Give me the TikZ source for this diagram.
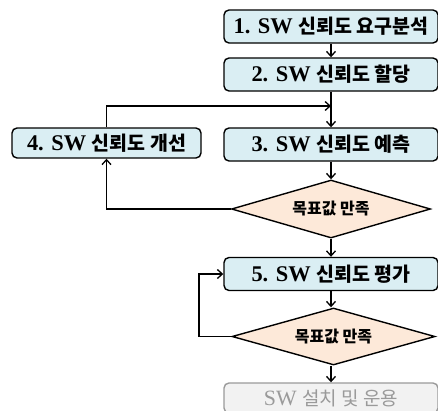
\documentclass[tikz,border=0pt]{standalone}
\usepackage{fontspec}
\setmainfont[Scale=1.15]{Liberation Serif}
\newfontfamily\kr{Noto Sans CJK KR}
\usetikzlibrary{shapes.geometric,arrows.meta}
\definecolor{boxblue}{HTML}{DAEEF3}
\definecolor{peach}{HTML}{FDE9D9}
\definecolor{greyfill}{HTML}{F2F2F2}
\definecolor{greytext}{HTML}{9A9A9A}
\tikzset{
  stepbox/.style={draw=black, fill=boxblue, line width=1.4pt, rounded corners=5pt,
    minimum width=214pt, minimum height=33pt, inner sep=0pt, font=\fontsize{19.5}{21}\selectfont\bfseries},
  smallbox/.style={stepbox, minimum width=189pt, minimum height=30pt},
  greybox/.style={draw=greytext, fill=greyfill, line width=1.4pt, rounded corners=5pt,
    minimum width=214pt, minimum height=30pt, inner sep=0pt, text=greytext,
    font=\fontsize{19}{20}\selectfont},
  decide/.style={diamond, draw=black, fill=peach, line width=1.4pt, inner sep=0pt,
    aspect=3.4, minimum width=199pt, minimum height=58pt, font=\fontsize{16}{17}\selectfont\bfseries},
  conn/.style={line width=1.3pt, -{Straight Barb[length=5pt,width=9pt,line width=1.3pt]}},
  plain/.style={line width=1.3pt}
}
\begin{document}
\begin{tikzpicture}[x=1pt,y=-1pt]
\useasboundingbox (0,0) rectangle (438,410);
\node[stepbox] (b1) at (331,26.5) {1.\,\,SW {\kr 신뢰도 요구분석}};
\node[stepbox] (b2) at (331,74.5) {2.\,\,SW {\kr 신뢰도 할당}};
\node[stepbox] (b3) at (331,144.5) {3.\,\,SW {\kr 신뢰도 예측}};
\node[smallbox] (b4) at (106.5,143) {4.\,\,SW {\kr 신뢰도 개선}};
\node[decide] (d1) at (331,209) {\kr 목표값 만족};
\node[stepbox] (b5) at (331,274) {5.\,\,SW {\kr 신뢰도 평가}};
\node[decide, minimum width=203pt, minimum height=57pt] (d2) at (333.5,336.5) {\kr 목표값 만족};
\node[greybox] (b6) at (331,398) {SW {\kr 설치 및 운용}};
\coordinate (j1) at (331,106);
\coordinate (l2) at (199,336.5);
\draw[conn] (b1) -- (b2);
\draw[conn] (b2) -- (b3);
\draw[conn] (b4.north) |- (j1);
\draw[conn] (b3) -- (d1);
\draw[conn] (d1.west) -| (b4.south);
\draw[conn] (d1.south) -- (b5.north);
\draw[conn] (b5.south) -- (b5.south |- d2.north);
\draw[conn] (d2.west) -- (l2) |- (b5.west);
\draw[conn] (b5.south |- d2.south) -- (b6.north);
\end{tikzpicture}
\end{document}
